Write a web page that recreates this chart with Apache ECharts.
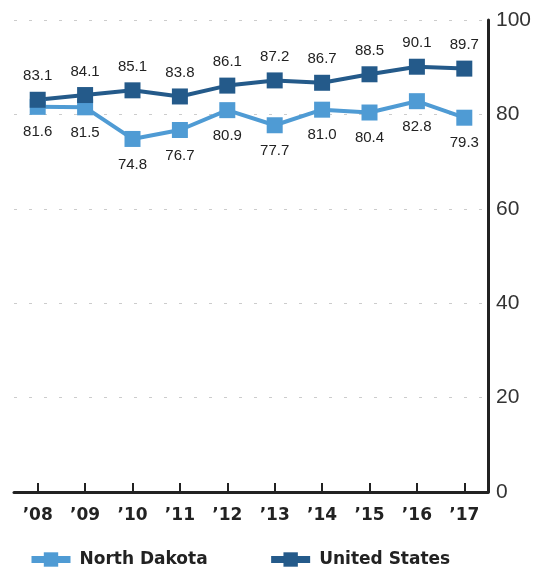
<!DOCTYPE html>
<html><head><meta charset="utf-8">
<script src="https://cdn.jsdelivr.net/npm/echarts@6/dist/echarts.min.js"></script>
<style>html,body{margin:0;padding:0;background:#fff}#c{width:547px;height:568px}</style>
</head><body><div id="c"></div>
<script>
const years = ['\u201908','\u201909','\u201910','\u201911','\u201912','\u201913','\u201914','\u201915','\u201916','\u201917'];
const northDakota = [81.6, 81.5, 74.8, 76.7, 80.9, 77.7, 81.0, 80.4, 82.8, 79.3];
const unitedStates = [83.1, 84.1, 85.1, 83.8, 86.1, 87.2, 86.7, 88.5, 90.1, 89.7];
const yTicks = [0, 20, 40, 60, 80, 100];

const font = 'Liberation Sans, Arial, sans-serif';
const boldFont = 'DejaVu Sans, sans-serif';
const chart = echarts.init(document.getElementById('c'));
chart.setOption({
  animation: false,
  grid: {left: 14, right: 59, top: 20, bottom: 76},
  legend: {
    top: 546, left: 23, itemGap: 60, itemWidth: 39, itemHeight: 18,
    lineStyle: {width: 7},
    textStyle: {fontFamily: boldFont, fontSize: 17, fontWeight: 'bold', color: '#222', padding: [0, 0, 0, 4]},
    data: ['North Dakota', 'United States']
  },
  xAxis: {
    type: 'category', data: years, boundaryGap: true,
    axisLine: {lineStyle: {color: '#222', width: 3}},
    axisTick: {show: true, inside: true, alignWithLabel: true, length: 9, lineStyle: {color: '#222', width: 2}},
    axisLabel: {fontFamily: boldFont, fontSize: 17, fontWeight: 'bold', color: '#222', margin: 15}
  },
  yAxis: {
    type: 'value', position: 'right', min: 0, max: 100, interval: 20,
    axisLine: {show: true, lineStyle: {color: '#222', width: 3}},
    axisTick: {show: false},
    axisLabel: {fontFamily: font, fontSize: 21, color: '#333', margin: 8,
      formatter: v => yTicks.includes(v) ? String(v) : ''},
    splitLine: {lineStyle: {color: '#ccc', type: [3, 12], width: 1}}
  },
  series: [
    {
      name: 'North Dakota', type: 'line', data: northDakota,
      symbol: 'rect', symbolSize: 16,
      lineStyle: {color: '#4f9bd4', width: 4},
      itemStyle: {color: '#4f9bd4'},
      label: {show: true, position: 'bottom', distance: 10, fontFamily: font, fontSize: 15, color: '#222',
        formatter: p => p.value.toFixed(1)}
    },
    {
      name: 'United States', type: 'line', data: unitedStates,
      symbol: 'rect', symbolSize: 16,
      lineStyle: {color: '#245a8a', width: 4},
      itemStyle: {color: '#245a8a'},
      label: {show: true, position: 'top', distance: 8, fontFamily: font, fontSize: 15, color: '#222',
        formatter: p => p.value.toFixed(1)}
    }
  ]
});
</script></body></html>
